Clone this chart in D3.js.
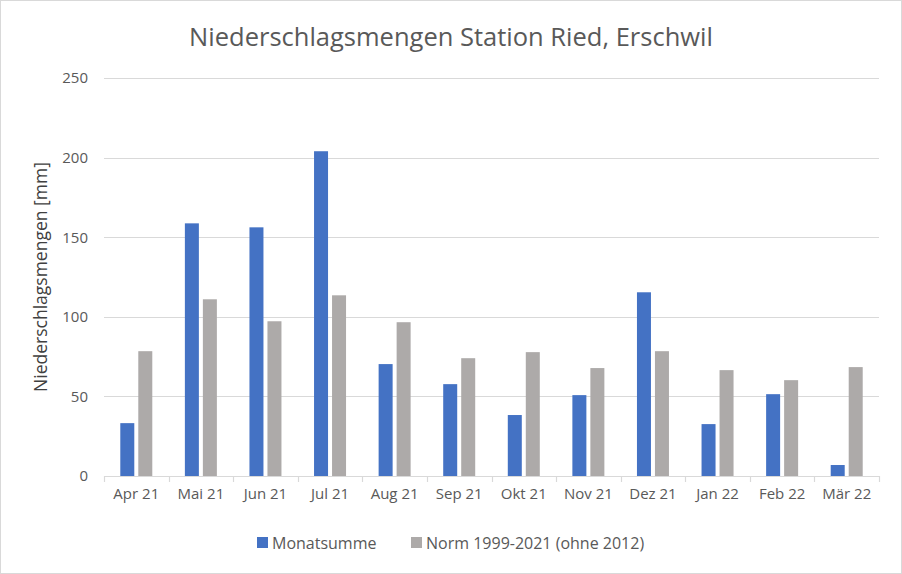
<!DOCTYPE html>
<html><head><meta charset="utf-8">
<script src="https://cdn.jsdelivr.net/npm/d3@7"></script>
<style>body{margin:0;background:#fff;} svg{display:block;font-family:"Open Sans",sans-serif;}</style>
</head><body><svg id="c" width="902" height="574"></svg>
<script>
const categories = ["Apr 21","Mai 21","Jun 21","Jul 21","Aug 21","Sep 21","Okt 21","Nov 21","Dez 21","Jan 22","Feb 22","Mär 22"];
const monatssumme = [33.2,158.7,156.2,204,70.3,57.7,38.3,50.8,115.4,32.6,51.4,6.9];
const norm = [78.4,111,97.2,113.5,96.6,74,77.8,67.8,78.4,66.5,60.2,68.4];
const seriesNames = ["Monatsumme","Norm 1999-2021 (ohne 2012)"];
const yTicks = [0,50,100,150,200,250];
const colors = ["#4472C4","#ADAAA9"];

(function(){
const svg = d3.select("#c");
svg.append("rect").attr("x",0.5).attr("y",0.5).attr("width",901).attr("height",573).attr("fill","#fff").attr("stroke","#D9D9D9");

const pL=104, pR=879, pT=78, pB=476;
const x = d3.scaleBand().domain(categories).range([pL,pR]).paddingInner(0).paddingOuter(0);
const y = d3.scaleLinear().domain([0,250]).range([pB,pT]);

svg.append("text").attr("x",451).attr("y",46).attr("text-anchor","middle").attr("fill","#595959").attr("font-size",25.5).text("Niederschlagsmengen Station Ried, Erschwil");

svg.append("g").selectAll("line").data(yTicks.filter(d=>d>0)).join("line")
  .attr("x1",pL).attr("x2",pR).attr("y1",d=>Math.round(y(d))+0.5).attr("y2",d=>Math.round(y(d))+0.5)
  .attr("stroke","#D9D9D9").attr("stroke-width",1.2);

const yAxis = d3.axisLeft(y).tickValues(yTicks).tickSize(0).tickPadding(16);
const gy = svg.append("g").attr("transform",`translate(${pL},0)`).call(yAxis);
gy.select(".domain").remove();
gy.selectAll("text").attr("fill","#595959").attr("font-size",15).attr("font-family","'Open Sans',sans-serif");

svg.append("text").attr("transform",`translate(47,${(pT+pB)/2}) rotate(-90)`).attr("text-anchor","middle")
  .attr("fill","#404040").attr("font-size",17.5).text("Niederschlagsmengen [mm]");

const bw = 14, gap = 4;
[monatssumme, norm].forEach((vals,si)=>{
  svg.append("g").selectAll("rect").data(vals).join("rect")
    .attr("x",(d,i)=>x(categories[i]) + x.bandwidth()/2 - (bw+gap/2) + si*(bw+gap))
    .attr("y",d=>y(d)).attr("width",bw).attr("height",d=>y(0)-y(d)).attr("fill",colors[si]);
});

const xAxis = d3.axisBottom(x).tickSize(0).tickPadding(12);
const gx = svg.append("g").attr("transform",`translate(0,${pB})`).call(xAxis);
gx.select(".domain").remove();
gx.selectAll("text").attr("fill","#595959").attr("font-size",15).attr("font-family","'Open Sans',sans-serif");
svg.append("line").attr("x1",pL).attr("x2",pR).attr("y1",pB+0.5).attr("y2",pB+0.5).attr("stroke","#D9D9D9").attr("stroke-width",1.2);
const bounds = categories.map(c=>x(c)).concat([pR]);
svg.append("g").selectAll("line").data(bounds).join("line")
  .attr("x1",d=>Math.round(d)+0.5).attr("x2",d=>Math.round(d)+0.5).attr("y1",pB).attr("y2",pB+6).attr("stroke","#D9D9D9").attr("stroke-width",1.2);

const lg = svg.append("g");
const legX = [257,411];
seriesNames.forEach((n,i)=>{
  lg.append("rect").attr("x",legX[i]).attr("y",537).attr("width",11).attr("height",11).attr("fill",colors[i]);
  lg.append("text").attr("x",legX[i]+15).attr("y",549).attr("fill","#595959").attr("font-size",16).text(n);
});
})();
</script></body></html>
